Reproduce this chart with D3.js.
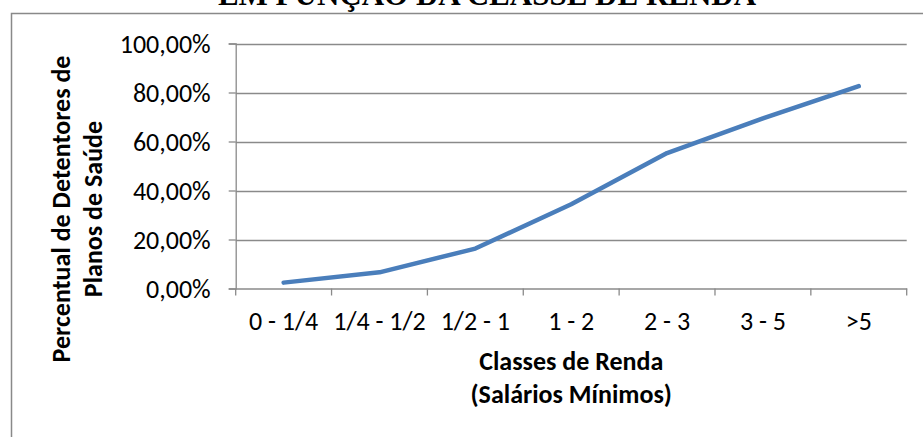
<!DOCTYPE html>
<html>
<head>
<meta charset="utf-8">
<script src="https://cdn.jsdelivr.net/npm/d3@7"></script>
<style>
  body { margin: 0; background: #fff; }
  text { font-family: Carlito, Lato, "Open Sans", sans-serif; fill: #000; }
  .title { font-family: "Liberation Serif", "DejaVu Serif", serif; font-weight: bold; }
</style>
</head>
<body>
<svg width="923" height="437"></svg>
<script>
// data
var categories = ["0 - 1/4", "1/4 - 1/2", "1/2 - 1", "1 - 2", "2 - 3", "3 - 5", ">5"];
var values = [0.024, 0.066, 0.163, 0.344, 0.553, 0.694, 0.826];
var yTicks = [0, 0.2, 0.4, 0.6, 0.8, 1.0];

var svg = d3.select("svg"),
  width = +svg.attr("width"),
  height = +svg.attr("height");

var pt = d3.formatLocale({decimal: ",", thousands: ".", grouping: [3], currency: ["R$", ""]});
var fmt = pt.format(".2%");

var plot = {left: 235.7, right: 906.7, top: 43.5, bottom: 288.5};

var x = d3.scaleBand()
  .domain(categories)
  .range([plot.left, plot.right])
  .padding(0);

var y = d3.scaleLinear()
  .domain([0, 1])
  .range([plot.bottom, plot.top]);

svg.append("rect")
  .attr("width", width)
  .attr("height", height)
  .attr("fill", "#fff");

// chart area border (cut off at the right and bottom)
svg.append("path")
  .attr("d", "M11.5," + height + "V13.5H" + width)
  .attr("fill", "none")
  .attr("stroke", "#898989")
  .attr("stroke-width", 1.5);

// title, mostly outside the picture
svg.append("text")
  .attr("class", "title")
  .attr("x", 487)
  .attr("y", 5)
  .attr("text-anchor", "middle")
  .style("font-size", "31px")
  .text("EM FUNÇÃO DA CLASSE DE RENDA");

// gridlines
svg.append("g")
  .selectAll("line")
  .data(yTicks.slice(1))
  .enter().append("line")
  .attr("x1", plot.left)
  .attr("x2", plot.right)
  .attr("y1", function(d) { return Math.round(y(d)) + 0.5; })
  .attr("y2", function(d) { return Math.round(y(d)) + 0.5; })
  .attr("stroke", "#8a8a8a")
  .attr("stroke-width", 1.3);

// y axis
var yAxis = svg.append("g")
  .attr("transform", "translate(" + plot.left + ",0)")
  .call(d3.axisLeft(y).tickValues(yTicks).tickFormat(fmt).tickSize(7).tickPadding(18));
yAxis.selectAll("line, path").attr("stroke", "#8a8a8a").attr("stroke-width", 1.3);
yAxis.selectAll("text")
  .style("font-size", "26px")
  .style("font-family", null)
  .attr("dy", "0.33em");

// x axis
var xAxis = svg.append("g")
  .attr("transform", "translate(0," + plot.bottom + ")")
  .call(d3.axisBottom(x).tickValues([]).tickSizeOuter(0));
xAxis.selectAll("path").attr("stroke", "#8a8a8a").attr("stroke-width", 1.3);

var edges = d3.range(categories.length + 1).map(function(i) {
  return plot.left + i * x.step();
});
xAxis.selectAll(".edge")
  .data(edges)
  .enter().append("line")
  .attr("class", "edge")
  .attr("x1", function(d) { return d; })
  .attr("x2", function(d) { return d; })
  .attr("y1", 0)
  .attr("y2", 7)
  .attr("stroke", "#8a8a8a")
  .attr("stroke-width", 1.3);

svg.append("g")
  .selectAll("text")
  .data(categories)
  .enter().append("text")
  .attr("x", function(d) { return x(d) + x.bandwidth() / 2; })
  .attr("y", 330)
  .attr("text-anchor", "middle")
  .style("font-size", "26px")
  .text(function(d) { return d; });

// axis titles
var xTitle = svg.append("text")
  .attr("x", (plot.left + plot.right) / 2)
  .attr("y", 370)
  .attr("text-anchor", "middle")
  .style("font-size", "26px")
  .style("font-weight", "bold");
xTitle.append("tspan").attr("x", (plot.left + plot.right) / 2).text("Classes de Renda");
xTitle.append("tspan").attr("x", (plot.left + plot.right) / 2).attr("dy", 33).text("(Salários Mínimos)");

var yTitle = svg.append("text")
  .attr("transform", "translate(70,209) rotate(-90)")
  .attr("text-anchor", "middle")
  .style("font-size", "26px")
  .style("font-weight", "bold");
yTitle.append("tspan").attr("x", 0).attr("y", 0).text("Percentual de Detentores de");
yTitle.append("tspan").attr("x", 0).attr("y", 32).text("Planos de Saúde");

// the series
var line = d3.line()
  .x(function(d, i) { return x(categories[i]) + x.bandwidth() / 2; })
  .y(function(d) { return y(d); });

svg.append("path")
  .datum(values)
  .attr("d", line)
  .attr("fill", "none")
  .attr("stroke", "#4a7ebb")
  .attr("stroke-width", 4.5)
  .attr("stroke-linecap", "round")
  .attr("stroke-linejoin", "round");
</script>
</body>
</html>
